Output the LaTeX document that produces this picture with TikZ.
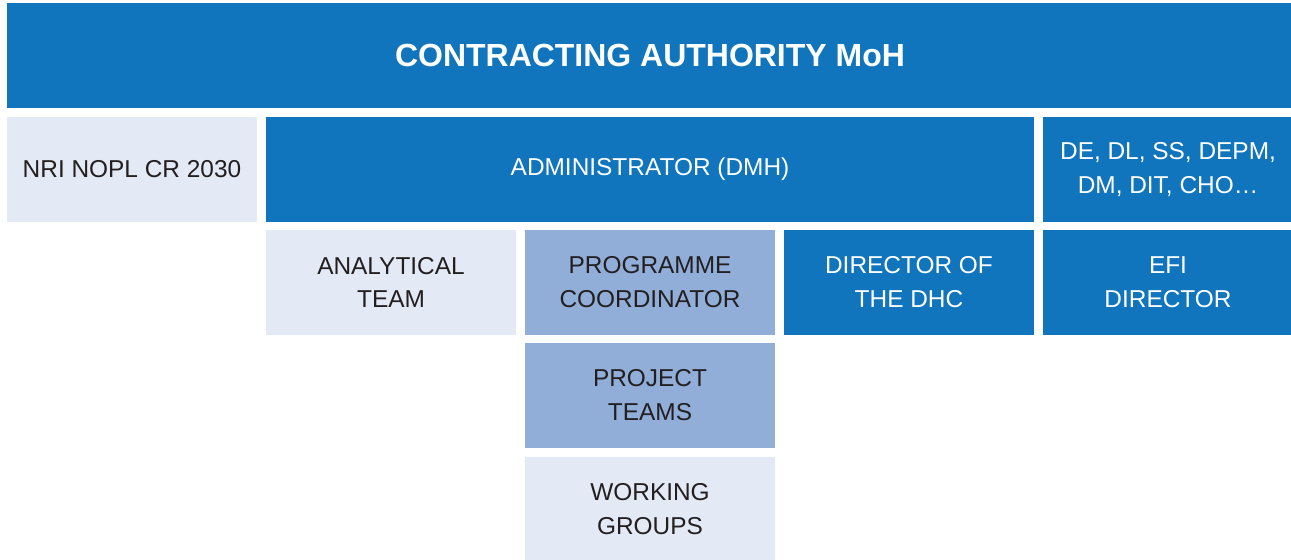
\documentclass[tikz,border=0pt]{standalone}
\usepackage{fontspec}
\setmainfont{Liberation Sans}
\definecolor{orgdark}{HTML}{1075BC}
\definecolor{orgmid}{HTML}{91AED9}
\definecolor{orglight}{HTML}{E3E9F5}
\definecolor{orgink}{HTML}{231F20}
\begin{document}
\begin{tikzpicture}[
  x=0.02cm,
  y=-0.02cm,
  every node/.style={font=\fontsize{13.9}{19.3}\selectfont, orgink},
  cell/.style={rectangle, inner sep=0pt, align=center,
               minimum width=5cm, minimum height=2.1cm},
  darkcell/.style={cell, fill=orgdark, text=white},
  midcell/.style={cell, fill=orgmid},
  lightcell/.style={cell, fill=orglight}
]
  \useasboundingbox (0,0) rectangle (1291,560);

  % ================= top bar ============================================
  \node[darkcell, minimum width=25.72cm,
        font=\fontsize{18.2}{22}\selectfont\bfseries] (moh) at (650,55.5)
    {CONTRACTING AUTHORITY MoH};

  % ================= second row =========================================
  \node[lightcell] (nri) at (132,169.5) {NRI NOPL CR 2030};
  \node[darkcell, minimum width=15.36cm] (dmh) at (650,169.5)
    {ADMINISTRATOR (DMH)};
  \node[darkcell] (deps) at (1168,169.5)
    {DE, DL, SS, DEPM,\\DM, DIT, CHO\dots};

  % ================= third row ==========================================
  \node[lightcell] (analytic) at (391,282.5) {ANALYTICAL\\TEAM};
  \node[midcell] (coord) at (650,282.5) {PROGRAMME\\COORDINATOR};
  \node[darkcell] (dhc) at (909,282.5) {DIRECTOR OF\\THE DHC};
  \node[darkcell] (efi) at (1168,282.5) {EFI\\DIRECTOR};

  % ================= under the coordinator ==============================
  \node[midcell] (teams) at (650,395.5) {PROJECT\\TEAMS};
  \node[lightcell] (groups) at (650,509.5) {WORKING\\GROUPS};
\end{tikzpicture}
\end{document}
